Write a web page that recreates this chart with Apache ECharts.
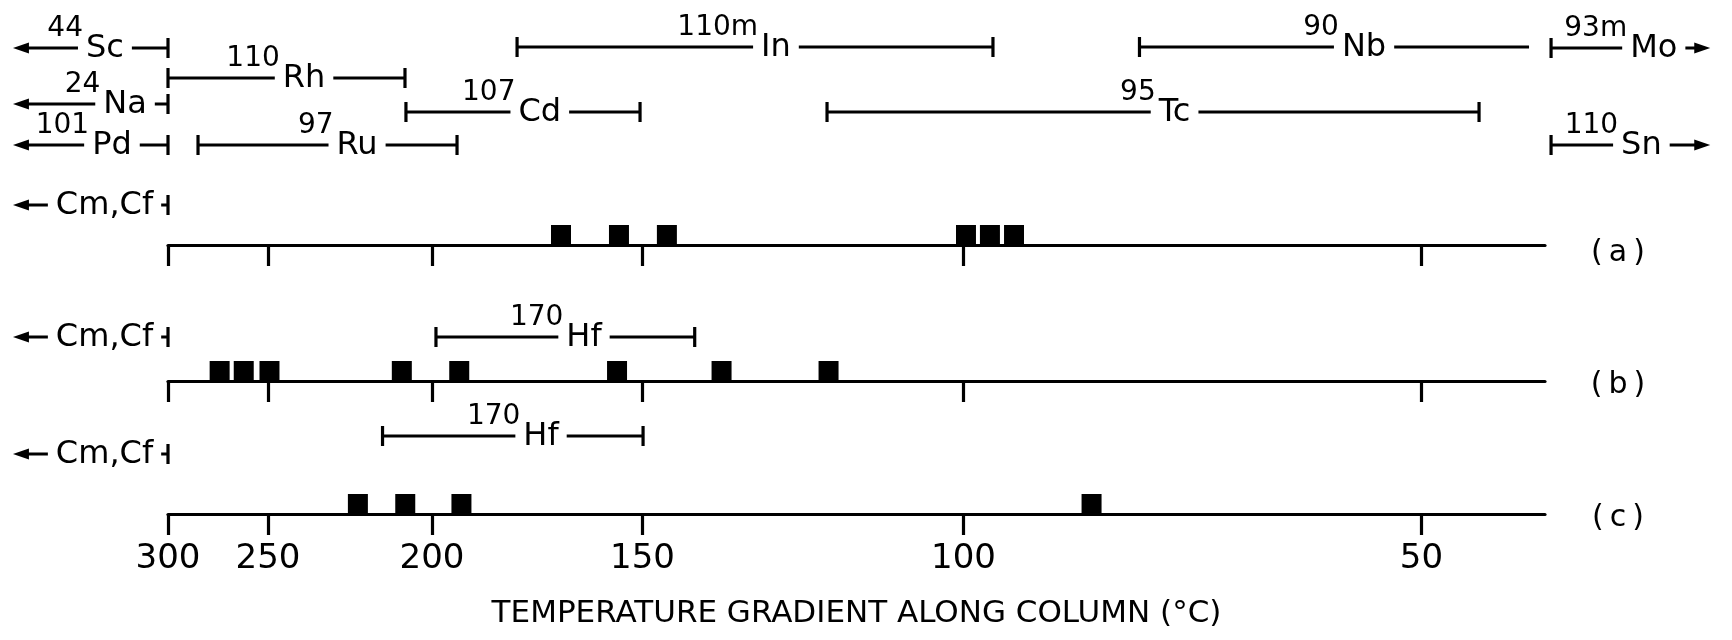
<!DOCTYPE html>
<html>
<head>
<meta charset="utf-8">
<script src="https://cdn.jsdelivr.net/npm/echarts@6/dist/echarts.min.js"></script>
<style>
html, body { margin: 0; background: #fff; }
#chart { width: 1732px; height: 640px; }
</style>
</head>
<body>
<div id="chart"></div>
<script>
// x = position along the column, % of its length (0 = the 300 °C end)
const tickTemps = [300, 250, 200, 150, 100, 50]
const tickPos = [0, 7.26, 19.17, 34.46, 57.77, 91.03]

// activity peaks found on the column in runs (a), (b), (c)
const peaksA = [28.54, 32.75, 36.23, 57.95, 59.69, 61.44]
const peaksB = [3.75, 5.50, 7.37, 16.98, 21.15, 32.61, 40.20, 47.97]
const peaksC = [13.79, 17.23, 21.31, 67.07]

// deposition zones: [mass number, element, from, to]; null = runs past the column end
const zonesTop = [
    ['44', 'Sc', null, 0],
    ['110m', 'In', 25.35, 59.91],
    ['90', 'Nb', 70.55, 98.84],
    ['93m', 'Mo', 100.44, null],
    ['110', 'Rh', 0, 17.21],
    ['24', 'Na', null, 0],
    ['107', 'Cd', 17.28, 34.28],
    ['95', 'Tc', 47.86, 95.21],
    ['101', 'Pd', null, 0],
    ['97', 'Ru', 2.18, 20.99],
    ['110', 'Sn', 100.44, null]
]
const zonesA = [['', 'Cm,Cf', null, 0]]
const zonesB = [['', 'Cm,Cf', null, 0], ['170', 'Hf', 19.46, 38.25]]
const zonesC = [['', 'Cm,Cf', null, 0], ['170', 'Hf', 15.58, 34.5]]

// where each zone is drawn: lane (px from top) and label centre (x units)
const layoutTop = [
    { lane: 48, label: -4.58 },
    { lane: 47, label: 44.15 },
    { lane: 47, label: 86.86, cap: false },
    { lane: 48, label: 107.9 },
    { lane: 78, label: 9.88 },
    { lane: 104, label: -3.12 },
    { lane: 112, label: 27.0 },
    { lane: 112, label: 73.1 },
    { lane: 145, label: -4.07 },
    { lane: 145, label: 13.73 },
    { lane: 145, label: 107.0 }
]
const layoutA = [{ lane: 205, label: -4.61 }]
const layoutB = [{ lane: 337, label: -4.61 }, { lane: 337, label: 30.21 }]
const layoutC = [{ lane: 454, label: -4.61 }, { lane: 436, label: 27.09 }]

const baselines = [245, 381, 514]
const panelNames = ['(\u2009a\u2009)', '(\u2009b\u2009)', '(\u2009c\u2009)']
const ARROW_L = -11.26
const ARROW_R = 112.0

const FONT = "'DejaVu Sans', sans-serif"
const MAIN = '32px ' + FONT
const SUP = '28px ' + FONT
const INK = '#000'

const measure = document.createElement('canvas').getContext('2d')
const textWidth = function (text, font) {
    measure.font = font
    return measure.measureText(text).width
}

const seg = (x1, y1, x2, y2) => ({
    type: 'line',
    shape: { x1, y1, x2, y2 },
    style: { stroke: INK, lineWidth: 3.2 }
})
const arrow = (x, y, dir) => ({
    type: 'polygon',
    shape: { points: [[x, y], [x + dir * 16, y - 5.5], [x + dir * 16, y + 5.5]] },
    style: { fill: INK }
})

const zoneSeries = function (list, layout) {
    return {
        type: 'custom',
        xAxisIndex: 3,
        yAxisIndex: 3,
        clip: false,
        silent: true,
        data: list.map((z, i) => [
            z[2] == null ? ARROW_L : z[2],
            z[3] == null ? ARROW_R : z[3],
            layout[i].lane,
            layout[i].label
        ]),
        renderItem: function (params, api) {
            const z = list[params.dataIndex]
            const l = layout[params.dataIndex]
            const a = api.coord([api.value(0), api.value(2)])
            const b = api.coord([api.value(1), api.value(2)])
            const c = api.coord([api.value(3), api.value(2)])
            const y = a[1]
            const openL = z[2] == null
            const openR = z[3] == null
            const kids = [seg(openL ? a[0] + 8 : a[0], y, openR ? b[0] - 8 : b[0], y)]
            kids.push(openL ? arrow(a[0], y, 1) : seg(a[0], y - 10, a[0], y + 10))
            if (openR) kids.push(arrow(b[0], y, -1))
            else if (l.cap !== false) kids.push(seg(b[0], y - 10, b[0], y + 10))
            const w = textWidth(z[1], MAIN)
            kids.push({
                type: 'text', x: c[0], y: y + 1,
                style: {
                    text: z[1], font: MAIN, fill: INK,
                    align: 'center', verticalAlign: 'middle',
                    backgroundColor: '#fff', padding: [0, 8]
                }
            })
            if (z[0]) {
                kids.push({
                    type: 'text', x: c[0] - w / 2 - 3, y: y - 19,
                    style: { text: z[0], font: SUP, fill: INK, align: 'right', verticalAlign: 'middle' }
                })
            }
            return { type: 'group', children: kids }
        }
    }
}

const tempLabel = function (v) {
    const i = tickPos.findIndex(p => Math.abs(p - v) < 1e-6)
    return i < 0 ? '' : String(tickTemps[i])
}

const grids = baselines.map(b => ({ left: 168, right: 187, top: b - 40, height: 40 }))
grids.push({ left: 168, right: 187, top: 0, height: 640 })

const xAxes = baselines.map((b, i) => ({
    type: 'value',
    gridIndex: i,
    min: 0,
    max: 100,
    splitLine: { show: false },
    axisLine: { lineStyle: { color: INK, width: 3.2 } },
    axisTick: { customValues: tickPos, length: 21, lineStyle: { color: INK, width: 3.2 } },
    axisLabel: {
        show: i === 2,
        customValues: tickPos,
        formatter: tempLabel,
        color: INK,
        fontFamily: FONT,
        fontSize: 34,
        margin: 28
    },
    name: i === 2 ? 'TEMPERATURE GRADIENT ALONG COLUMN (°C)' : '',
    nameLocation: 'middle',
    nameGap: 84,
    nameTextStyle: { color: INK, fontFamily: FONT, fontSize: 31 }
}))
xAxes.push({ type: 'value', gridIndex: 3, min: 0, max: 100, show: false })

const yAxes = baselines.map((b, i) => ({ type: 'value', gridIndex: i, min: 0, max: 1, show: false }))
yAxes.push({ type: 'value', gridIndex: 3, min: 0, max: 640, inverse: true, show: false })

const peakSeries = [peaksA, peaksB, peaksC].map((peaks, i) => ({
    type: 'scatter',
    xAxisIndex: i,
    yAxisIndex: i,
    symbol: 'rect',
    symbolSize: 20,
    symbolOffset: [0, -10],
    itemStyle: { color: INK, opacity: 1 },
    silent: true,
    data: peaks.map(p => [p, 0])
}))

const chart = echarts.init(document.getElementById('chart'))
chart.setOption({
    animation: false,
    backgroundColor: '#fff',
    grid: grids,
    xAxis: xAxes,
    yAxis: yAxes,
    graphic: panelNames.map((t, i) => ({
        type: 'text',
        x: 1618,
        y: baselines[i] + (i === 0 ? 8 : 4),
        style: {
            text: t, font: '30px ' + FONT, fill: INK,
            align: 'center', verticalAlign: 'middle',
            textAlign: 'center', textVerticalAlign: 'middle'
        }
    })),
    series: peakSeries.concat([
        zoneSeries(zonesTop, layoutTop),
        zoneSeries(zonesA, layoutA),
        zoneSeries(zonesB, layoutB),
        zoneSeries(zonesC, layoutC)
    ])
})
</script>
</body>
</html>
